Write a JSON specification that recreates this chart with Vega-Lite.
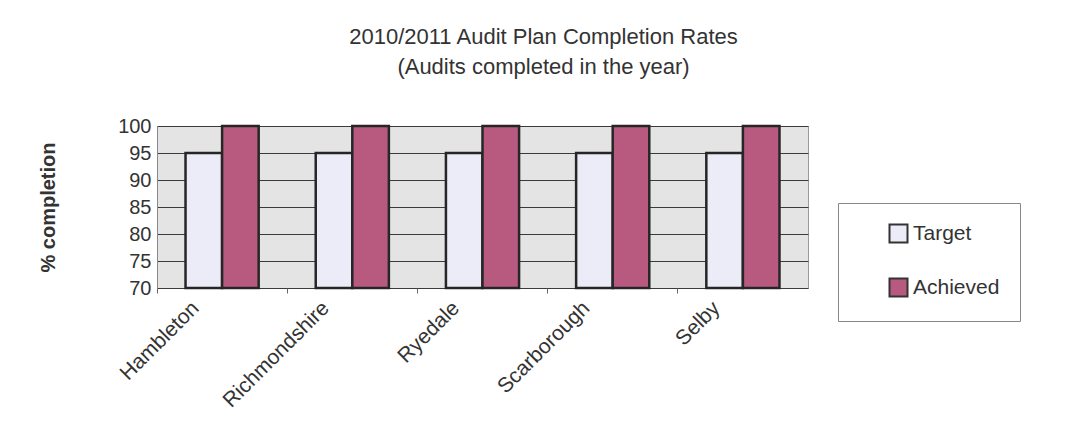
{
  "$schema": "https://vega.github.io/schema/vega-lite/v6.json",
  "width": 651,
  "height": 162,
  "autosize": {"type": "none"},
  "padding": {"left": 157, "top": 126, "right": 272, "bottom": 160},
  "background": "white",
  "title": {
    "text": ["2010/2011 Audit Plan Completion Rates", "(Audits completed in the year)"],
    "font": "Liberation Sans",
    "fontSize": 22,
    "fontWeight": "normal",
    "color": "#333333",
    "lineHeight": 30,
    "anchor": "middle",
    "dx": 61,
    "offset": 37
  },
  "data": {
    "values": [
      {"council": "Hambleton", "series": "Target", "value": 95},
      {"council": "Hambleton", "series": "Achieved", "value": 100},
      {"council": "Richmondshire", "series": "Target", "value": 95},
      {"council": "Richmondshire", "series": "Achieved", "value": 100},
      {"council": "Ryedale", "series": "Target", "value": 95},
      {"council": "Ryedale", "series": "Achieved", "value": 100},
      {"council": "Scarborough", "series": "Target", "value": 95},
      {"council": "Scarborough", "series": "Achieved", "value": 100},
      {"council": "Selby", "series": "Target", "value": 95},
      {"council": "Selby", "series": "Achieved", "value": 100}
    ]
  },
  "mark": {"type": "bar", "stroke": "#262626", "strokeWidth": 2.5},
  "encoding": {
    "x": {
      "field": "council",
      "type": "nominal",
      "sort": null,
      "scale": {"paddingInner": 0, "paddingOuter": 0},
      "axis": {
        "title": null,
        "labelAngle": -45,
        "labelAlign": "right",
        "labelBaseline": "top",
        "labelFont": "Liberation Sans",
        "labelFontSize": 21,
        "labelColor": "#333333",
        "labelOffset": -34,
        "labelPadding": 4,
        "domain": false,
        "ticks": true,
        "bandPosition": 0,
        "tickColor": "#666666",
        "tickSize": 5,
        "grid": false
      }
    },
    "xOffset": {
      "field": "series",
      "type": "nominal",
      "sort": ["Target", "Achieved"],
      "scale": {"paddingInner": 0, "paddingOuter": 0.78}
    },
    "y": {
      "field": "value",
      "type": "quantitative",
      "scale": {"domain": [70, 100], "zero": false, "nice": false},
      "axis": {
        "title": "% completion",
        "titleFont": "Liberation Sans",
        "titleFontSize": 20,
        "titleFontWeight": "bold",
        "titleColor": "#333333",
        "titleAngle": -90,
        "titleX": -109,
        "titleY": 81,
        "titleAlign": "center",
        "titleBaseline": "middle",
        "values": [70, 75, 80, 85, 90, 95, 100],
        "labelFont": "Liberation Sans",
        "labelFontSize": 20,
        "labelColor": "#333333",
        "labelPadding": 6,
        "ticks": false,
        "domainColor": "#888888",
        "grid": true,
        "gridColor": "#3a3a3a",
        "gridWidth": 1
      }
    },
    "y2": {"datum": 70},
    "color": {
      "field": "series",
      "type": "nominal",
      "sort": ["Target", "Achieved"],
      "scale": {"domain": ["Target", "Achieved"], "range": ["#ecebf8", "#b85a80"]},
      "legend": {
        "title": null,
        "orient": "none",
        "legendX": 681,
        "legendY": 77,
        "strokeColor": "#888888",
        "fillColor": "white",
        "padding": 20,
        "rowPadding": 27,
        "symbolType": "square",
        "symbolSize": 324,
        "symbolStrokeColor": "#333333",
        "symbolStrokeWidth": 2,
        "symbolOffset": 30,
        "labelOffset": 4,
        "labelFont": "Liberation Sans",
        "labelFontSize": 21,
        "labelColor": "#333333"
      }
    }
  },
  "config": {
    "view": {"fill": "#e4e4e4", "stroke": "#9a9a9a", "strokeWidth": 1}
  }
}
